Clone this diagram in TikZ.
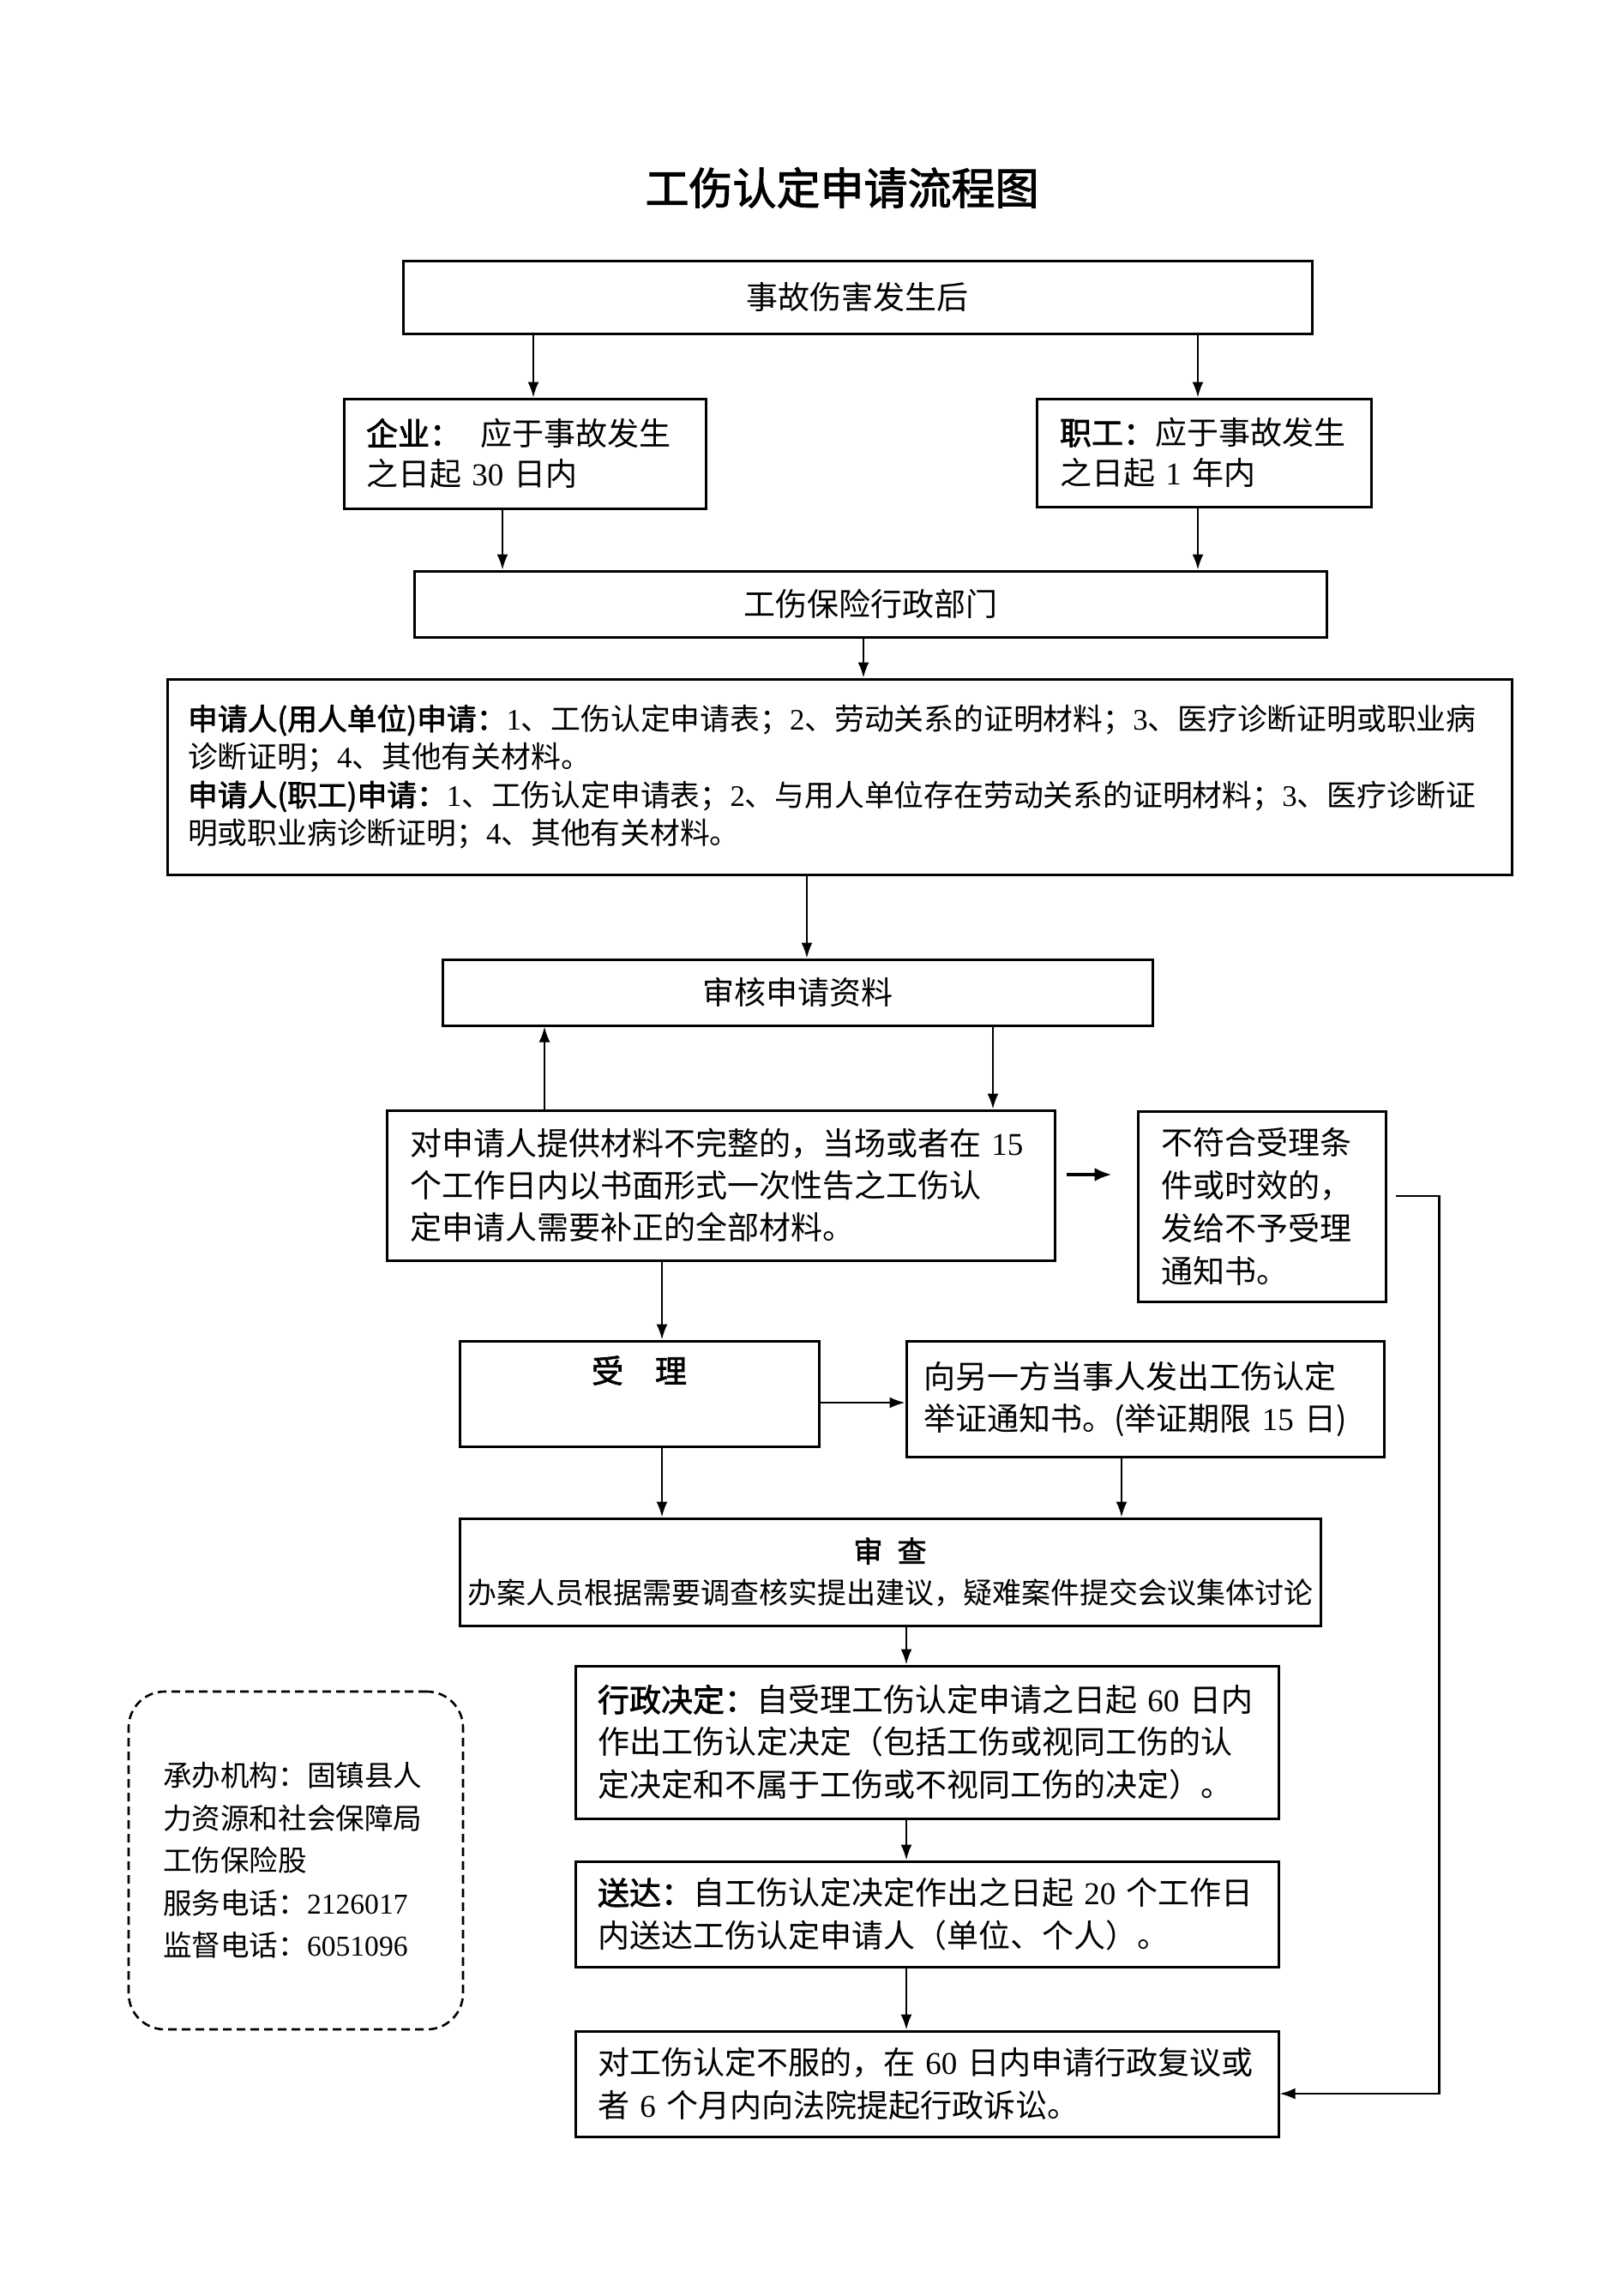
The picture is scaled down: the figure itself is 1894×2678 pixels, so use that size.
\documentclass[tikz,border=0pt]{standalone}
\usepackage{fontspec}
\setmainfont{Noto Sans CJK SC}[AutoFakeBold=2]
\newfontfamily\lat{Liberation Serif}
\usetikzlibrary{arrows.meta,calc}
\newcommand{\dg}[1]{{\lat #1}}
\begin{document}
\begin{tikzpicture}[x=0.5pt,y=-0.5pt,
  box/.style={draw, line width=1.5pt, inner ysep=0pt, anchor=center},
  fbig/.style={font=\fontsize{18.5}{24.5}\selectfont},
  arr/.style={-{Latex[length=9pt,width=6.5pt]}, line width=1.1pt},
  arrb/.style={-{Latex[length=10pt,width=8pt]}, line width=1.8pt}]
\path[fill=white,use as bounding box] (0,0) rectangle (1894,2678);

\node[font=\fontsize{25.5}{30}\selectfont\bfseries] (title) at (982,219) {工伤认定申请流程图};

\node[box, fbig, minimum width=530pt, minimum height=42.5pt] (acc) at (1000,346.5) {事故伤害发生后};

\node[box, font=\fontsize{18.5}{23.5}\selectfont, minimum width=211pt, minimum height=64pt,
      text width=185pt, inner xsep=13pt, align=left] (ent) at (612,529)
  {\mbox{\textbf{企业：}\hspace{0.6em}应于事故发生}\\\mbox{之日起 \dg{30} 日内}};

\node[box, font=\fontsize{18.5}{23.5}\selectfont, minimum width=195pt, minimum height=63pt,
      text width=168pt, inner xsep=13.5pt, align=left] (wrk) at (1404,528)
  {\mbox{\textbf{职工：}应于事故发生}\\\mbox{之日起 \dg{1} 年内}};

\node[box, fbig, minimum width=532pt, minimum height=38.5pt] (dept) at (1015,704.5) {工伤保险行政部门};

\node[box, font=\fontsize{17.4}{22.2}\selectfont, minimum width=784pt, minimum height=114pt,
      text width=760pt, inner xsep=12pt, align=left] (req) at (979,906)
  {\mbox{\textbf{申请人(用人单位)申请：}\dg{1}、工伤认定申请表；\dg{2}、劳动关系的证明材料；\dg{3}、医疗诊断证明或职业病}\\
   \mbox{诊断证明；\dg{4}、其他有关材料。}\\
   \mbox{\textbf{申请人(职工)申请：}\dg{1}、工伤认定申请表；\dg{2}、与用人单位存在劳动关系的证明材料；\dg{3}、医疗诊断证}\\
   \mbox{明或职业病诊断证明；\dg{4}、其他有关材料。}};

\node[box, fbig, minimum width=414pt, minimum height=38.5pt] (rev) at (930,1157.5) {审核申请资料};

\node[box, fbig, minimum width=389.5pt, minimum height=87.5pt,
      text width=362.5pt, inner xsep=13.5pt, align=left] (inc) at (840.5,1382.5)
  {\mbox{对申请人提供材料不完整的，当场或者在 \dg{15}}\\个工作日内以书面形式一次性告之工伤认\\定申请人需要补正的全部材料。};

\node[box, font=\fontsize{18.5}{25}\selectfont, minimum width=144.5pt, minimum height=111pt,
      text width=117.5pt, inner xsep=13.5pt, align=left] (rej) at (1471.5,1407)
  {不符合受理条\\件或时效的，\\发给不予受理\\通知书。};

\node[box, minimum width=209.5pt, minimum height=61.5pt] (acpt) at (745.5,1625.5) {};
\node[font=\fontsize{18.5}{24.5}\selectfont\bfseries] (acptlbl) at ([yshift=-18pt]acpt.north) {受\hspace{1em}理};

\node[box, font=\fontsize{18.5}{24.5}\selectfont, minimum width=278.5pt, minimum height=67.5pt,
      text width=258.5pt, inner xsep=10pt, align=left] (ntf) at (1335.5,1631.5)
  {\mbox{向另一方当事人发出工伤认定}\\\mbox{举证通知书。(举证期限 \dg{15} 日)}};

\node[box, font=\fontsize{17}{24}\selectfont, minimum width=502pt, minimum height=62.5pt, align=center] (exam) at (1038,1833.5)
  {\textbf{审\hspace{0.5em}查}\\办案人员根据需要调查核实提出建议，疑难案件提交会议集体讨论};

\node[box, font=\fontsize{18.5}{24.75}\selectfont, minimum width=410pt, minimum height=89pt,
      text width=384pt, inner xsep=13pt, align=left] (dec) at (1081,2032)
  {\mbox{\textbf{行政决定：}自受理工伤认定申请之日起 \dg{60} 日内}\\作出工伤认定决定（包括工伤或视同工伤的认\\定决定和不属于工伤或不视同工伤的决定）。};

\node[box, font=\fontsize{18.5}{24.75}\selectfont, minimum width=410pt, minimum height=61.5pt,
      text width=384pt, inner xsep=13pt, align=left] (del) at (1081,2232.5)
  {\mbox{\textbf{送达：}自工伤认定决定作出之日起 \dg{20} 个工作日}\\内送达工伤认定申请人（单位、个人）。};

\node[box, font=\fontsize{18.5}{24.75}\selectfont, minimum width=410pt, minimum height=61.5pt,
      text width=384pt, inner xsep=13pt, align=left] (fin) at (1081,2430.5)
  {\mbox{对工伤认定不服的，在 \dg{60} 日内申请行政复议或}\\\mbox{者 \dg{6} 个月内向法院提起行政诉讼。}};

\node[draw, line width=1.3pt, dash pattern=on 5pt off 3pt, rounded corners=21pt,
      font=\fontsize{16.8}{24.75}\selectfont, minimum width=195pt, minimum height=197pt,
      text width=155pt, inner xsep=20pt, align=left] (info) at (345,2170)
  {承办机构：固镇县人\\力资源和社会保障局\\工伤保险股\\服务电话：\dg{2126017}\\监督电话：\dg{6051096}};

% connectors
\draw[arr] ([xshift=5pt]ent.north |- acc.south) -- ([xshift=5pt]ent.north);
\draw[arr] ([xshift=-3.5pt]wrk.north |- acc.south) -- ([xshift=-3.5pt]wrk.north);
\draw[arr] ([xshift=-13pt]ent.south) -- ([xshift=-13pt]ent.south |- dept.north);
\draw[arr] ([xshift=-3.5pt]wrk.south) -- ([xshift=-3.5pt]wrk.south |- dept.north);
\draw[arr] ([xshift=-4pt]dept.south) -- ([xshift=-4pt]dept.south |- req.north);
\draw[arr] ([xshift=5.5pt]rev.north |- req.south) -- ([xshift=5.5pt]rev.north);
\draw[arr] ([xshift=-102.75pt]inc.north) -- ([xshift=-102.75pt]inc.north |- rev.south);
\draw[arr] ([xshift=158.75pt]inc.north |- rev.south) -- ([xshift=158.75pt]inc.north);
\draw[arrb, shorten <=6pt, shorten >=14.5pt] ([yshift=6.25pt]inc.east) -- ([yshift=6.25pt]inc.east -| rej.west);
\draw[arr] ([xshift=13.25pt]acpt.north |- inc.south) -- ([xshift=13.25pt]acpt.north);
\draw[arr] ([yshift=-5.25pt]acpt.east) -- ([yshift=-5.25pt]acpt.east -| ntf.west);
\draw[arr] ([xshift=13.25pt]acpt.south) -- ([xshift=13.25pt]acpt.south |- exam.north);
\draw[arr] ([xshift=-13.75pt]ntf.south) -- ([xshift=-13.75pt]ntf.south |- exam.north);
\draw[arr] ([xshift=-12pt]dec.north |- exam.south) -- ([xshift=-12pt]dec.north);
\draw[arr] ([xshift=-12pt]dec.south) -- ([xshift=-12pt]del.north);
\draw[arr] ([xshift=-12pt]del.south) -- ([xshift=-12pt]fin.north);
\draw[arr, shorten <=5pt] ([yshift=6pt]rej.east) -- ++(30.5pt,0) |- ([yshift=-5.75pt]fin.east);
\end{tikzpicture}
\end{document}
